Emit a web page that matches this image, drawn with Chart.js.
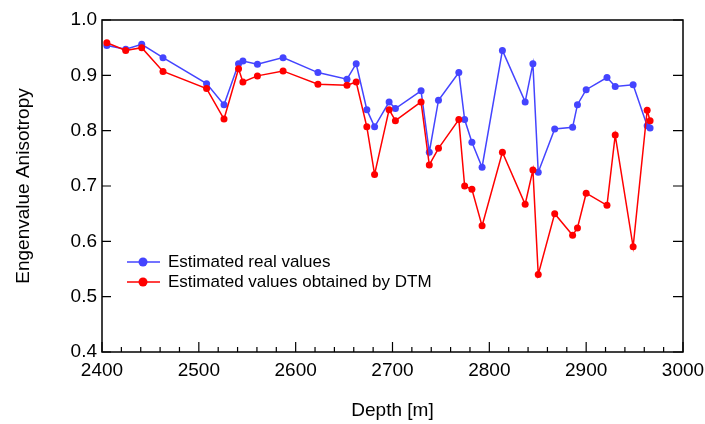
<!DOCTYPE html>
<html>
<head>
<meta charset="utf-8">
<script src="https://cdn.jsdelivr.net/npm/chart.js@4.4.0/dist/chart.umd.min.js"></script>
<style>
  html, body { margin: 0; padding: 0; background: #fff; }
  #wrap { width: 705px; height: 424px; }
</style>
</head>
<body>
<div id="wrap"><canvas id="chart" width="705" height="424"></canvas></div>
<script>
// depth of each sample [m]
const depth = [2405, 2424.5, 2441, 2463, 2508, 2526, 2541, 2545.5, 2560.5, 2587,
  2623, 2653, 2662.5, 2673.5, 2681.5, 2696.5, 2703, 2729.5, 2738, 2747.5,
  2768.5, 2774.5, 2782, 2792.5, 2813.5, 2837, 2845, 2850.5, 2867.5, 2886,
  2891, 2900, 2921.5, 2930, 2948.5, 2963, 2966];

const realValues = [0.954, 0.947, 0.956, 0.932, 0.885, 0.847, 0.921, 0.926, 0.920, 0.932,
  0.905, 0.893, 0.921, 0.838, 0.807, 0.852, 0.840, 0.872, 0.761, 0.855,
  0.905, 0.820, 0.779, 0.734, 0.945, 0.852, 0.921, 0.725, 0.803, 0.806,
  0.847, 0.874, 0.896, 0.880, 0.883, 0.809, 0.805];

const dtmValues = [0.959, 0.945, 0.950, 0.907, 0.876, 0.821, 0.912, 0.888, 0.899, 0.908,
  0.884, 0.882, 0.888, 0.807, 0.721, 0.838, 0.818, 0.852, 0.738, 0.768,
  0.820, 0.700, 0.694, 0.628, 0.761, 0.667, 0.729, 0.540, 0.650, 0.611,
  0.624, 0.687, 0.665, 0.792, 0.590, 0.837, 0.818];

const seriesLabels = ['Estimated real values', 'Estimated values obtained by DTM'];
const xTicks = [2400, 2500, 2600, 2700, 2800, 2900, 3000];
const yTicks = [0.4, 0.5, 0.6, 0.7, 0.8, 0.9, 1.0];

const BLUE = '#4444ff';
const RED = '#ff0000';
const FONT = "'Liberation Sans', Arial, sans-serif";

const toPoints = (vals) => vals.map((v, i) => ({ x: depth[i], y: v }));

// box frame + inward ticks
const frameTicks = {
  id: 'frameTicks',
  beforeDatasetsDraw(chart) {
    const { ctx, chartArea: a, scales: { x, y } } = chart;
    ctx.save();
    ctx.strokeStyle = '#000';
    ctx.lineWidth = 1.5;
    ctx.strokeRect(a.left, a.top, a.right - a.left, a.bottom - a.top);
    ctx.lineWidth = 1.2;
    ctx.beginPath();
    for (let v = xTicks[0]; v <= xTicks[xTicks.length - 1]; v += 20) {
      const px = x.getPixelForValue(v);
      const len = v % 100 === 0 ? 10 : 5;
      ctx.moveTo(px, a.bottom);
      ctx.lineTo(px, a.bottom - len);
    }
    yTicks.forEach(v => {
      const py = y.getPixelForValue(v);
      ctx.moveTo(a.left, py);
      ctx.lineTo(a.left + 9, py);
      ctx.moveTo(a.right, py);
      ctx.lineTo(a.right - 10, py);
    });
    ctx.stroke();
    ctx.restore();
  }
};

// legend inside the plot
const insideLegend = {
  id: 'insideLegend',
  afterDraw(chart) {
    const { ctx, chartArea: a } = chart;
    const colors = [BLUE, RED];
    ctx.save();
    ctx.font = '17px ' + FONT;
    ctx.textBaseline = 'middle';
    seriesLabels.forEach((lab, i) => {
      const yy = a.top + 242 + i * 20;
      const x0 = a.left + 25;
      ctx.strokeStyle = colors[i];
      ctx.lineWidth = 1.5;
      ctx.beginPath();
      ctx.moveTo(x0, yy);
      ctx.lineTo(x0 + 33, yy);
      ctx.stroke();
      ctx.fillStyle = colors[i];
      ctx.beginPath();
      ctx.arc(x0 + 16, yy, 4.5, 0, Math.PI * 2);
      ctx.fill();
      ctx.fillStyle = '#000';
      ctx.fillText(lab, x0 + 41, yy);
    });
    ctx.restore();
  }
};

new Chart(document.getElementById('chart'), {
  type: 'line',
  data: {
    datasets: [
      {
        label: seriesLabels[0],
        data: toPoints(realValues),
        borderColor: BLUE,
        backgroundColor: BLUE,
        borderWidth: 1.5,
        pointRadius: 3.5,
        pointBorderWidth: 0,
        tension: 0,
        order: 1
      },
      {
        label: seriesLabels[1],
        data: toPoints(dtmValues),
        borderColor: RED,
        backgroundColor: RED,
        borderWidth: 1.5,
        pointRadius: 3.5,
        pointBorderWidth: 0,
        tension: 0,
        order: 0
      }
    ]
  },
  options: {
    responsive: false,
    animation: false,
    devicePixelRatio: 1,
    layout: { padding: { top: 20, right: 22, left: 0, bottom: 0 } },
    plugins: {
      legend: { display: false },
      tooltip: { enabled: false }
    },
    scales: {
      x: {
        type: 'linear',
        min: 2400,
        max: 3000,
        afterBuildTicks: (s) => { s.ticks = xTicks.map(v => ({ value: v })); },
        afterFit: (s) => { s.height = 72; s.paddingLeft = 0; s.paddingRight = 0; },
        grid: { display: false, drawTicks: false },
        border: { display: false },
        ticks: {
          color: '#000',
          padding: 7,
          font: { family: FONT, size: 19 },
          callback: (v) => String(v)
        },
        title: {
          display: true,
          text: 'Depth [m]',
          color: '#000',
          font: { family: FONT, size: 19 },
          padding: { top: 0, bottom: 2 }
        }
      },
      y: {
        type: 'linear',
        min: 0.4,
        max: 1.0,
        afterBuildTicks: (s) => { s.ticks = yTicks.map(v => ({ value: v })); },
        afterFit: (s) => { s.width = 102; s.paddingTop = 0; s.paddingBottom = 0; },
        grid: { display: false, drawTicks: false },
        border: { display: false },
        ticks: {
          color: '#000',
          padding: 5,
          font: { family: FONT, size: 19 },
          callback: (v) => Number(v).toFixed(1)
        },
        title: {
          display: true,
          text: 'Engenvalue Anisotropy',
          color: '#000',
          font: { family: FONT, size: 19 },
          padding: { top: 12, bottom: 0 }
        }
      }
    }
  },
  plugins: [frameTicks, insideLegend]
});
</script>
</body>
</html>
